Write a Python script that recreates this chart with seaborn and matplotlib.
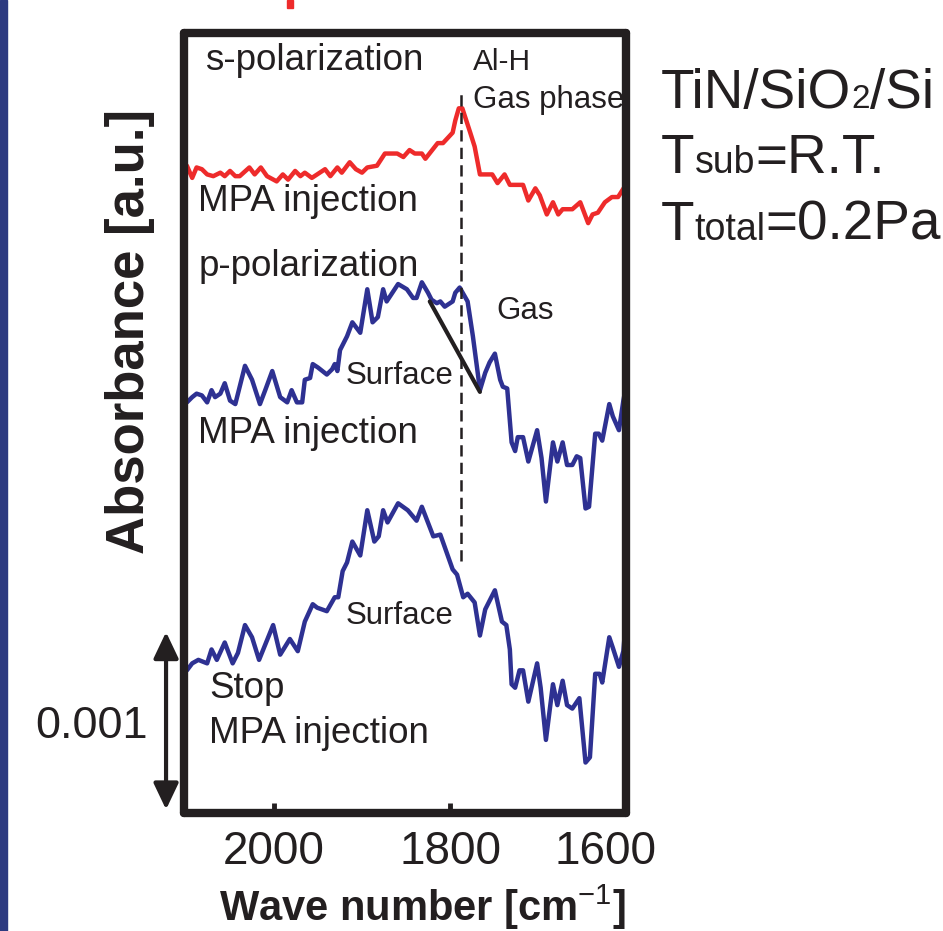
import matplotlib
matplotlib.use("Agg")
import matplotlib.pyplot as plt
import seaborn as sns
from matplotlib.patches import Rectangle
from matplotlib.transforms import ScaledTranslation

# ---------------- data (absorbance in units of 1e-3 a.u., curves offset) ----------------
s_pol_wn = [2099, 2093, 2088, 2082, 2076, 2069, 2061, 2056, 2050, 2044,
            2039, 2028, 2022, 2015, 2008, 1997, 1990, 1984, 1976, 1970,
            1965, 1957, 1951, 1942, 1936, 1928, 1923, 1914, 1907, 1900,
            1894, 1883, 1874, 1860, 1853, 1846, 1840, 1832, 1828, 1814,
            1808, 1797, 1794, 1790, 1786, 1777, 1772, 1766, 1752, 1746,
            1738, 1732, 1717, 1711, 1703, 1698, 1690, 1683, 1677, 1672,
            1661, 1652, 1643, 1638, 1632, 1624, 1616, 1609, 1599, 1592]
s_pol_abs = [3.72, 3.65, 3.71, 3.70, 3.67, 3.66, 3.68, 3.66, 3.69, 3.66,
             3.66, 3.71, 3.67, 3.71, 3.66, 3.63, 3.67, 3.64, 3.69, 3.66,
             3.68, 3.65, 3.67, 3.70, 3.66, 3.71, 3.68, 3.74, 3.70, 3.68,
             3.71, 3.72, 3.79, 3.79, 3.77, 3.81, 3.79, 3.79, 3.76, 3.85,
             3.85, 3.91, 3.98, 4.05, 4.05, 3.91, 3.83, 3.67, 3.67, 3.62,
             3.67, 3.61, 3.61, 3.52, 3.59, 3.55, 3.44, 3.51, 3.44, 3.47,
             3.47, 3.51, 3.39, 3.44, 3.45, 3.51, 3.54, 3.54, 3.62, 3.60]

p_inj_wn = [2099, 2093, 2088, 2082, 2076, 2071, 2067, 2061, 2056, 2050,
            2044, 2039, 2033, 2025, 2016, 2010, 2002, 1993, 1985, 1980,
            1974, 1968, 1965, 1959, 1956, 1950, 1940, 1934, 1931, 1928,
            1925, 1917, 1911, 1902, 1894, 1888, 1882, 1876, 1872, 1859,
            1849, 1842, 1838, 1832, 1825, 1821, 1815, 1811, 1806, 1797,
            1794, 1789, 1780, 1774, 1768, 1766, 1760, 1755, 1749, 1743,
            1740, 1735, 1730, 1726, 1723, 1717, 1711, 1701, 1696, 1691,
            1683, 1678, 1672, 1667, 1661, 1656, 1652, 1646, 1642, 1635,
            1631, 1627, 1619, 1615, 1608, 1603, 1599, 1593]
p_inj_abs = [2.36, 2.39, 2.41, 2.40, 2.36, 2.43, 2.39, 2.41, 2.47, 2.37,
             2.35, 2.45, 2.57, 2.49, 2.35, 2.43, 2.54, 2.39, 2.36, 2.43,
             2.36, 2.36, 2.49, 2.50, 2.58, 2.56, 2.52, 2.55, 2.58, 2.54,
             2.66, 2.74, 2.82, 2.76, 3.01, 2.82, 2.85, 3.01, 2.94, 3.04,
             3.01, 2.96, 2.96, 3.05, 2.99, 2.95, 2.93, 2.94, 2.91, 2.94,
             2.99, 3.02, 2.94, 2.74, 2.51, 2.43, 2.53, 2.59, 2.64, 2.49,
             2.45, 2.44, 2.13, 2.08, 2.16, 2.16, 2.02, 2.20, 2.04, 1.79,
             2.13, 2.02, 2.13, 2.00, 2.00, 2.05, 2.04, 1.75, 1.76, 2.18,
             2.18, 2.14, 2.35, 2.28, 2.20, 2.37, 2.48, 2.48]

p_stop_wn = [2099, 2093, 2086, 2076, 2071, 2065, 2056, 2047, 2041, 2033,
             2025, 2017, 2001, 1993, 1982, 1973, 1965, 1956, 1951, 1940,
             1931, 1927, 1922, 1917, 1911, 1902, 1894, 1886, 1881, 1876,
             1871, 1859, 1848, 1838, 1832, 1819, 1811, 1797, 1792, 1785,
             1780, 1772, 1766, 1760, 1755, 1749, 1741, 1736, 1732, 1730,
             1726, 1721, 1717, 1711, 1701, 1697, 1691, 1683, 1678, 1672,
             1667, 1661, 1653, 1646, 1641, 1635, 1630, 1627, 1619, 1615,
             1608, 1603, 1599, 1593]
p_stop_abs = [0.82, 0.86, 0.88, 0.86, 0.94, 0.88, 0.98, 0.86, 0.92, 1.08,
              1.01, 0.88, 1.08, 0.91, 1.00, 0.93, 1.10, 1.20, 1.18, 1.16,
              1.24, 1.24, 1.39, 1.44, 1.56, 1.48, 1.74, 1.56, 1.59, 1.74,
              1.67, 1.78, 1.74, 1.68, 1.76, 1.59, 1.60, 1.40, 1.37, 1.24,
              1.26, 1.21, 1.02, 1.17, 1.22, 1.28, 1.10, 1.08, 0.94, 0.74,
              0.72, 0.82, 0.82, 0.64, 0.86, 0.72, 0.42, 0.74, 0.62, 0.76,
              0.62, 0.60, 0.66, 0.29, 0.32, 0.80, 0.80, 0.75, 1.01, 0.95,
              0.84, 0.93, 1.18, 1.15]

x_ticks = [2000, 1800, 1600]
x_tick_labels = ["2000", "1800", "1600"]
y_ticks = [0.5, 1.0, 1.5, 2.0, 2.5, 3.0, 3.5, 4.0]

alh_wn = 1788                     # Al-H gas phase marker
alh_span = (1.45, 4.16)
gas_line_wn = [1823, 1766]        # black separator line in p-pol spectrum
gas_line_abs = [2.94, 2.42]
scale_bar = (0.02, 1.04)          # 0.001 a.u. scale bar

# ---------------- style ----------------
W, H = 943, 931
INK = "#231F20"
RED = "#EE2B2B"
BLUE = "#2E3192"

sns.set_theme(style="white")
plt.rcParams["font.family"] = ["Liberation Sans", "DejaVu Sans"]
plt.rcParams["mathtext.fontset"] = "custom"
plt.rcParams["mathtext.rm"] = "Liberation Sans"
plt.rcParams["mathtext.bf"] = "Liberation Sans:bold"
plt.rcParams["mathtext.it"] = "Liberation Sans:italic"

fig = plt.figure(figsize=(W / 100, H / 100), dpi=100)
fig.patch.set_facecolor("white")
ax = fig.add_axes([184 / W, 1 - 813 / H, (626 - 184) / W, (813 - 33) / H])

for wn, ab, col in [(s_pol_wn, s_pol_abs, RED),
                    (p_inj_wn, p_inj_abs, BLUE),
                    (p_stop_wn, p_stop_abs, BLUE)]:
    sns.lineplot(x=wn, y=ab, ax=ax, color=col, lw=3.2, sort=False,
                 estimator=None, legend=False)

ax.plot([alh_wn, alh_wn], alh_span, color=INK, lw=1.8, ls=(0, (4.5, 2.5)))
ax.plot(gas_line_wn, gas_line_abs, color=INK, lw=3.0)

ax.set_xlim(2102.3, 1600)
ax.set_ylim(0, 780 / 174)

ax.set_xticks(x_ticks)
ax.set_xticklabels(x_tick_labels)
ax.set_yticks(y_ticks)
ax.set_yticklabels([])
ax.tick_params(axis="x", bottom=True, top=False, direction="in", length=7,
               width=3.5, color=INK, labelsize=33, labelcolor=INK, pad=12)
ax.tick_params(axis="y", left=True, right=False, direction="in", length=3,
               width=4, color=INK)
for sp in ax.spines.values():
    sp.set_visible(True)
    sp.set_linewidth(6)
    sp.set_color(INK)
    sp.set_capstyle("round")
ax.set_facecolor("white")

# shift the 1600 label as in the original
lbl = ax.get_xticklabels()[2]
lbl.set_transform(lbl.get_transform() + ScaledTranslation(-0.21, 0, fig.dpi_scale_trans))

ax.set_xlabel("Wave number [cm$^{\\mathrm{-1}}$]", fontsize=30, fontweight="bold",
              color=INK, va="baseline")
ax.xaxis.set_label_coords((422 - 184) / 442, (813 - 921) / 780)
ax.set_ylabel("Absorbance [a.u.]", fontsize=38, fontweight="bold", color=INK)
ax.yaxis.set_label_coords((155 - 184) / 442, (813 - 331) / 780)

# in-plot labels
big, small = 26.5, 22.5
labels = [
    ("s-polarization", 2078, 4.27, big),
    ("Al-H", 1774, 4.27, 21.5),
    ("Gas phase", 1774, 4.05, 22.5),
    ("MPA injection", 2086, 3.46, big),
    ("p-polarization", 2086, 3.086, big),
    ("MPA injection", 2086, 2.126, big),
    ("Surface", 1919, 2.466, small),
    ("Gas", 1747, 2.839, small),
    ("Surface", 1919, 1.086, small),
    ("Stop", 2074, 0.661, big),
    ("MPA injection", 2074, 0.402, big),
]
for s, x, y, fs in labels:
    ax.text(x, y, s, fontsize=fs, color=INK, ha="left", va="baseline")

# scale bar
ax.annotate("", xy=(2122.7, scale_bar[1]), xytext=(2122.7, scale_bar[0]),
            arrowprops=dict(arrowstyle="<|-|>,head_length=0.8,head_width=0.38",
                            lw=3, color=INK, mutation_scale=20, shrinkA=0, shrinkB=0),
            annotation_clip=False)
ax.text(2143, 0.431, "0.001", fontsize=32.5, color=INK, ha="right", va="baseline")

# right-hand condition text
renderer = fig.canvas.get_renderer()


def text_runs(x_px, base_px, runs):
    x = x_px
    for s, fs in runs:
        t = fig.text(x / W, 1 - base_px / H, s, fontsize=fs, color=INK,
                     ha="left", va="baseline")
        x = t.get_window_extent(renderer=renderer).x1


text_runs(661, 108, [("TiN/SiO", 39.5), ("2", 24), ("/Si", 39.5)])
text_runs(661, 173, [("T", 39.5), ("sub", 27), ("=R.T.", 39.5)])
text_runs(661, 240, [("T", 39.5), ("total", 27), ("=0.2Pa", 39.5)])

# decorations at the image border
fig.add_artist(Rectangle((0, 0), 7 / W, 1, transform=fig.transFigure,
                         color="#2D3A80", zorder=0))
fig.add_artist(Rectangle((287 / W, 1 - 8 / H), 6 / W, 8 / H,
                         transform=fig.transFigure, color=RED, zorder=0))

fig.savefig("out.png", dpi=100)
